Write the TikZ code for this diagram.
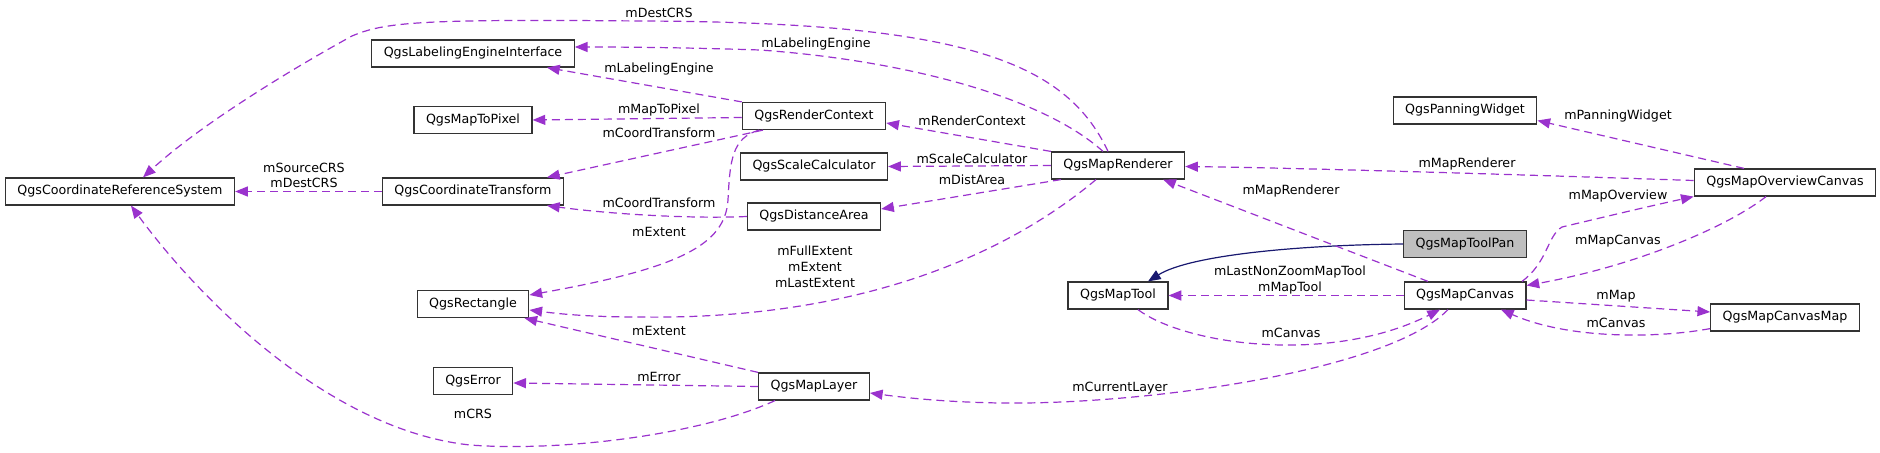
\documentclass[tikz,border=0pt]{standalone}
\usepackage{fontspec}
\setmainfont{DejaVu Sans}
\usetikzlibrary{arrows.meta,calc}
\definecolor{usecol}{HTML}{9A32CD}
\definecolor{inhcol}{HTML}{191970}
\definecolor{boxgray}{HTML}{BFBFBF}
\begin{document}
\begin{tikzpicture}[x=0.75pt,y=-0.75pt,
  box/.style={draw=black!80, line width=0.9pt, fill=white, minimum height=20.25pt,
    inner xsep=9pt, inner ysep=0pt, font=\fontsize{9.5}{11.6}\selectfont},
  usage/.style={draw=usecol, line width=0.9pt, dash pattern=on 6pt off 3.75pt,
    -{Triangle[length=9.5pt,width=7.5pt]}},
  inhline/.style={draw=inhcol, line width=0.9pt, -{Triangle[length=9.5pt,width=7.5pt]}},
  lbl/.style={font=\fontsize{9.5}{11.6}\selectfont, inner sep=0pt, align=center}]
\useasboundingbox (0,0) rectangle (1880,453);
% nodes
\node[box] (crs) at (120,191.5) {QgsCoordinateReferenceSystem};
\node[box] (lei) at (473,53.5) {QgsLabelingEngineInterface};
\node[box] (m2p) at (473,120) {QgsMapToPixel};
\node[box] (ct) at (473,191.5) {QgsCoordinateTransform};
\node[box] (rect) at (473,304) {QgsRectangle};
\node[box] (err) at (473,381) {QgsError};
\node[box] (rc) at (814,116) {QgsRenderContext};
\node[box] (sc) at (814,166.5) {QgsScaleCalculator};
\node[box] (da) at (814,216.5) {QgsDistanceArea};
\node[box] (ml) at (814,386.5) {QgsMapLayer};
\node[box] (mr) at (1118,165.5) {QgsMapRenderer};
\node[box] (mt) at (1118,295.5) {QgsMapTool};
\node[box] (pw) at (1465,110.5) {QgsPanningWidget};
\node[box, fill=boxgray] (mtp) at (1465,244) {QgsMapToolPan};
\node[box] (mc) at (1465,295.5) {QgsMapCanvas};
\node[box] (oc) at (1785,182.5) {QgsMapOverviewCanvas};
\node[box] (cm) at (1785,317.5) {QgsMapCanvasMap};
% edges
\draw[usage] ($(mr.north)+(-10,0)$) .. controls (1065,60) and (960,22) .. (640,21) .. controls (420,19) and (385,22) .. (352,36) .. controls (290,70) and (200,125) .. ($(crs.north)+(23,0)$);
\node[lbl] (l1) at (659,13) {mDestCRS};
\draw[usage] ($(mr.north)+(-15,0)$) .. controls (1040,95) and (900,60) .. (760,50) .. controls (700,48) and (640,47) .. ($(lei.east)+(0,-6.5)$);
\node[lbl] (l2) at (816,44) {mLabelingEngine};
\draw[usage] (rc.north west) -- ($(lei.south)+(74,0)$);
\node[lbl] (l3) at (659,69) {mLabelingEngine};
\draw[usage] ($(rc.west)+(0,1.5)$) -- (m2p.east);
\node[lbl] (l4) at (659,110) {mMapToPixel};
\draw[usage] ($(rc.south)+(-51,0)$) -- ($(ct.north)+(74,0)$);
\node[lbl] (l5) at (659,133) {mCoordTransform};
\draw[usage] ($(rc.south)+(-55,0)$) .. controls (732,138) and (730,160) .. (728,200) .. controls (725,245) and (680,268) .. ($(rect.east)+(0,-9)$);
\node[lbl] (l6) at (659,232) {mExtent};
\draw[usage] (mr.north west) -- ($(rc.east)+(0,7)$);
\node[lbl] (l7) at (972,121) {mRenderContext};
\draw[usage] (mr.west) -- (sc.east);
\node[lbl] (l8) at (972,159) {mScaleCalculator};
\draw[usage] ($(mr.south west)+(10,0)$) -- ($(da.east)+(0,-7.5)$);
\node[lbl] (l9) at (972,180) {mDistArea};
\draw[usage] (da.west) .. controls (690,219) and (610,214) .. ($(ct.south)+(74,0)$);
\node[lbl] (l10) at (659,203) {mCoordTransform};
\draw[usage] (ct.west) -- (crs.east);
\node[lbl] (l11) at (304,175.5) {mSourceCRS\\mDestCRS};
\draw[usage] ($(mr.south)+(-22,0)$) .. controls (1000,260) and (850,320) .. (640,317) .. controls (590,317) and (560,314) .. ($(rect.east)+(0,6)$);
\node[lbl, font=\fontsize{9.5}{12}\selectfont] (l12) at (815,267) {mFullExtent\\mExtent\\mLastExtent};
\draw[usage] (ml.north west) -- ($(rect.south east)+(-5,0)$);
\node[lbl] (l13) at (659,331) {mExtent};
\draw[usage] (ml.west) -- ($(err.east)+(0,2)$);
\node[lbl] (l14) at (659,377) {mError};
\draw[usage] ($(ml.south)+(-39,0)$) .. controls (700,435) and (560,452) .. (470,445) .. controls (330,430) and (200,300) .. ($(crs.south)+(11,0)$);
\node[lbl] (l15) at (473,414) {mCRS};
\draw[inhline] (mtp.west) .. controls (1300,245) and (1190,255) .. ($(mt.north)+(30,0)$);
\draw[usage] (mc.west) -- (mt.east);
\node[lbl] (l17) at (1290,280) {mLastNonZoomMapTool\\mMapTool};
\draw[usage] ($(mt.south)+(20,0)$) .. controls (1185,345) and (1330,365) .. ($(mc.south)+(-25,0)$);
\node[lbl] (l18) at (1291,333) {mCanvas};
\draw[usage] ($(mc.south)+(-17,0)$) .. controls (1390,370) and (1150,405) .. (1000,403) .. controls (940,402) and (900,397) .. ($(ml.east)+(0,6.5)$);
\node[lbl] (l19) at (1120,388) {mCurrentLayer};
\draw[usage] ($(mc.north)+(-37,0)$) -- ($(mr.south east)+(-22,0)$);
\node[lbl] (l20) at (1291,191) {mMapRenderer};
\draw[usage] ($(oc.west)+(0,-2)$) .. controls (1500,174) and (1300,168) .. ($(mr.east)+(0,1)$);
\node[lbl] (l21) at (1467,164) {mMapRenderer};
\draw[usage] ($(oc.north)+(-41,0)$) -- ($(pw.east)+(0,10)$);
\node[lbl] (l22) at (1618,116) {mPanningWidget};
\draw[usage] ($(oc.south)+(-19,0)$) .. controls (1730,225) and (1640,265) .. ($(mc.east)+(0,-10)$);
\node[lbl] (l23) at (1618,241) {mMapCanvas};
\draw[usage] ($(mc.north)+(57,0)$) .. controls (1548,262) and (1547,236) .. (1562,227) .. controls (1600,218) and (1650,206) .. (oc.south west);
\node[lbl] (l24) at (1618,196) {mMapOverview};
\draw[usage] ($(mc.east)+(0,4.5)$) -- ($(cm.west)+(0,-5.5)$);
\node[lbl] (l25) at (1616,296) {mMap};
\draw[usage] ($(cm.south west)+(0,-3)$) .. controls (1660,338) and (1570,340) .. ($(mc.south)+(36,0)$);
\node[lbl] (l26) at (1616,323) {mCanvas};
\end{tikzpicture}
\end{document}
